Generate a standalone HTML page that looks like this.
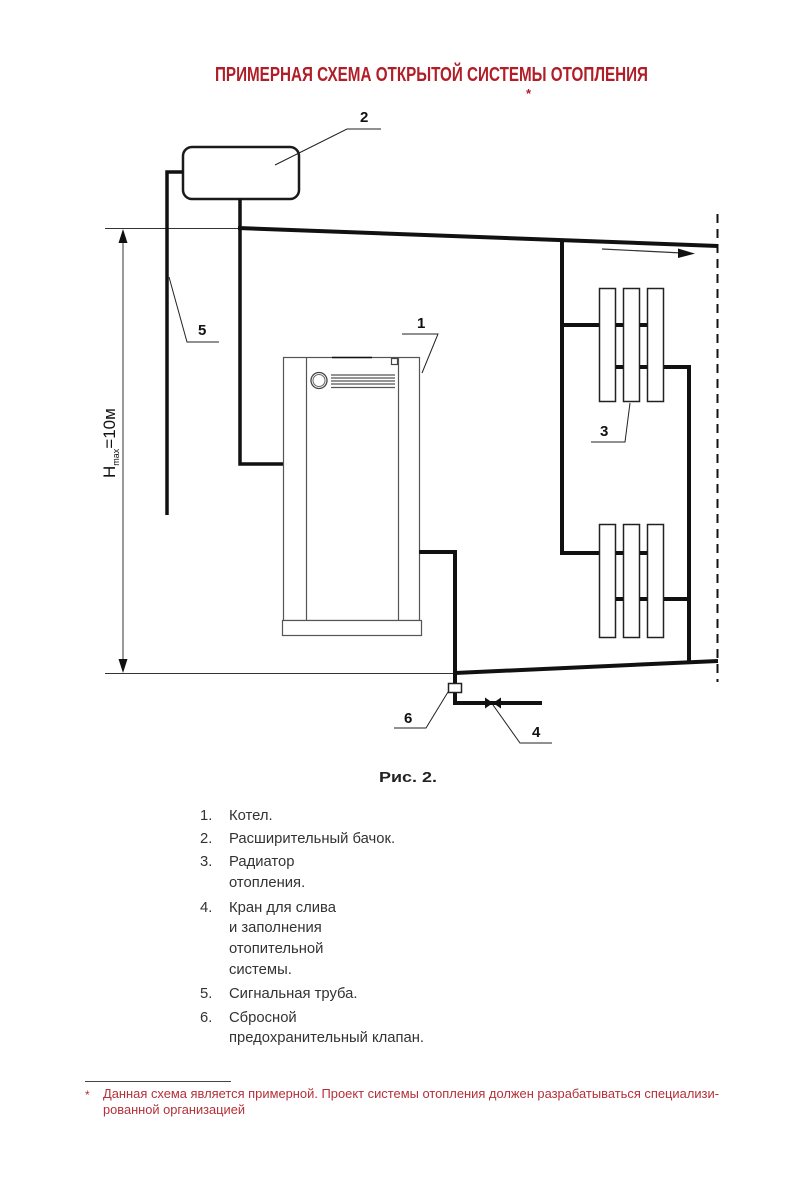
<!DOCTYPE html>
<html>
<head>
<meta charset="utf-8">
<style>
  html, body { margin: 0; padding: 0; background: #fff; }
  svg { display: block; }
  text { font-family: "Liberation Sans", "DejaVu Sans", sans-serif; }
</style>
</head>
<body>
<svg width="800" height="1200" viewBox="0 0 800 1200" xmlns="http://www.w3.org/2000/svg">
  <rect x="0" y="0" width="800" height="1200" fill="#fff"/>

  <!-- Title -->
  <text x="215" y="81" font-size="20" font-weight="bold" fill="#b01e28" textLength="433" lengthAdjust="spacingAndGlyphs">ПРИМЕРНАЯ СХЕМА ОТКРЫТОЙ СИСТЕМЫ ОТОПЛЕНИЯ</text>
  <text x="526" y="98" font-size="13" font-weight="bold" fill="#b01e28">*</text>

  <!-- Thin reference lines -->
  <line x1="105" y1="228.5" x2="240" y2="228.5" stroke="#333" stroke-width="1"/>
  <line x1="105" y1="673.5" x2="455" y2="673.5" stroke="#333" stroke-width="1"/>

  <!-- Dimension line -->
  <line x1="123" y1="236" x2="123" y2="666" stroke="#333" stroke-width="1"/>
  <polygon points="123,229 118.5,243 127.5,243" fill="#111"/>
  <polygon points="123,673 118.5,659 127.5,659" fill="#111"/>
  <text transform="translate(115,478) rotate(-90)" font-size="17" fill="#111">H<tspan font-size="9" dy="4">max</tspan><tspan dy="-4">=10м</tspan></text>

  <!-- Expansion tank -->
  <rect x="183" y="147" width="116" height="52" rx="9" ry="9" fill="#fff" stroke="#1a1a1a" stroke-width="2.5"/>

  <!-- Signal pipe -->
  <polyline points="183,172 167,172 167,515" fill="none" stroke="#111" stroke-width="3.5"/>

  <!-- Pipe from tank to boiler -->
  <polyline points="240,199 240,464 284,464" fill="none" stroke="#111" stroke-width="3.5"/>

  <!-- Supply main -->
  <line x1="238" y1="228" x2="718" y2="246" stroke="#111" stroke-width="4"/>

  <!-- Flow arrow -->
  <line x1="602" y1="249" x2="682" y2="253" stroke="#333" stroke-width="1.2"/>
  <polygon points="695,253.6 678,248.5 678,258" fill="#111"/>

  <!-- Dashed boundary -->
  <line x1="717.5" y1="214" x2="717.5" y2="682" stroke="#111" stroke-width="2" stroke-dasharray="9,6"/>

  <!-- Left riser -->
  <line x1="562" y1="241" x2="562" y2="555" stroke="#111" stroke-width="4"/>
  <line x1="560" y1="325" x2="663" y2="325" stroke="#111" stroke-width="4"/>
  <line x1="560" y1="553" x2="663" y2="553" stroke="#111" stroke-width="4"/>

  <!-- Right riser -->
  <polyline points="600,367 689,367 689,662" fill="none" stroke="#111" stroke-width="4"/>
  <line x1="600" y1="599" x2="689" y2="599" stroke="#111" stroke-width="4"/>

  <!-- Radiators -->
  <g fill="#fff" stroke="#222" stroke-width="1.5">
    <rect x="599.5" y="288.5" width="16" height="113"/>
    <rect x="623.5" y="288.5" width="16" height="113"/>
    <rect x="647.5" y="288.5" width="16" height="113"/>
    <rect x="599.5" y="524.5" width="16" height="113"/>
    <rect x="623.5" y="524.5" width="16" height="113"/>
    <rect x="647.5" y="524.5" width="16" height="113"/>
  </g>
  <g stroke="#111" stroke-width="4">
    <line x1="616" y1="325" x2="623" y2="325"/>
    <line x1="640" y1="325" x2="647" y2="325"/>
    <line x1="616" y1="367" x2="623" y2="367"/>
    <line x1="640" y1="367" x2="647" y2="367"/>
    <line x1="616" y1="553" x2="623" y2="553"/>
    <line x1="640" y1="553" x2="647" y2="553"/>
    <line x1="616" y1="599" x2="623" y2="599"/>
    <line x1="640" y1="599" x2="647" y2="599"/>
  </g>

  <!-- Return main -->
  <line x1="455" y1="673" x2="718" y2="661" stroke="#111" stroke-width="4"/>

  <!-- Boiler -->
  <g fill="none" stroke="#555" stroke-width="1.2">
    <rect x="283.5" y="357.5" width="136" height="263" fill="#fff"/>
    <line x1="306.5" y1="358" x2="306.5" y2="620"/>
    <line x1="398.5" y1="358" x2="398.5" y2="620"/>
    <rect x="282.5" y="620.5" width="139" height="15" fill="#fff"/>
    <rect x="391.5" y="358.5" width="6" height="6" stroke="#444"/>
  </g>
  <line x1="332" y1="357.5" x2="372" y2="357.5" stroke="#111" stroke-width="1.5"/>
  <circle cx="319" cy="380.5" r="8" fill="none" stroke="#444" stroke-width="1.3"/>
  <circle cx="319" cy="380.5" r="6" fill="none" stroke="#666" stroke-width="1"/>
  <g stroke="#555" stroke-width="1.2">
    <line x1="331" y1="375" x2="395" y2="375"/>
    <line x1="331" y1="378" x2="395" y2="378"/>
    <line x1="331" y1="381" x2="395" y2="381"/>
    <line x1="331" y1="384" x2="395" y2="384"/>
    <line x1="331" y1="387.5" x2="395" y2="387.5"/>
  </g>

  <!-- Pipe from boiler down to valves -->
  <polyline points="419,552 455,552 455,703 542,703" fill="none" stroke="#111" stroke-width="4"/>

  <!-- Safety valve 6 -->
  <rect x="448.5" y="683.5" width="13" height="9" fill="#fff" stroke="#222" stroke-width="1.5"/>

  <!-- Drain valve 4 -->
  <polygon points="485,697.5 493,703 485,708.5" fill="#111"/>
  <polygon points="501,697.5 493,703 501,708.5" fill="#111"/>

  <!-- Leaders -->
  <g fill="none" stroke="#222" stroke-width="1">
    <polyline points="275,165 347,129 381,129"/>
    <polyline points="169,277 187,342 219,342"/>
    <polyline points="422,373 438,334 402,334"/>
    <polyline points="630,403 625,442 591,442"/>
    <polyline points="448,692 426,728 394,728"/>
    <polyline points="493,705 520,743 552,743"/>
  </g>

  <!-- Callout numbers -->
  <g font-size="15" font-weight="bold" fill="#111">
    <text x="360" y="122">2</text>
    <text x="198" y="335">5</text>
    <text x="417" y="328">1</text>
    <text x="600" y="436">3</text>
    <text x="404" y="723">6</text>
    <text x="532" y="737">4</text>
  </g>

  <!-- Figure caption -->
  <text x="379" y="782" font-size="15" font-weight="bold" fill="#222" textLength="58" lengthAdjust="spacingAndGlyphs">Рис. 2.</text>

  <!-- Legend -->
  <g font-size="14.8" fill="#333">
    <text x="200" y="820">1.</text><text x="229" y="820">Котел.</text>
    <text x="200" y="843">2.</text><text x="229" y="843">Расширительный бачок.</text>
    <text x="200" y="866">3.</text><text x="229" y="866">Радиатор</text>
    <text x="229" y="887">отопления.</text>
    <text x="200" y="912">4.</text><text x="229" y="912">Кран для слива</text>
    <text x="229" y="932">и заполнения</text>
    <text x="229" y="953">отопительной</text>
    <text x="229" y="974">системы.</text>
    <text x="200" y="998">5.</text><text x="229" y="998">Сигнальная труба.</text>
    <text x="200" y="1022">6.</text><text x="229" y="1022">Сбросной</text>
    <text x="229" y="1042">предохранительный клапан.</text>
  </g>

  <!-- Footnote -->
  <line x1="85" y1="1081.5" x2="231" y2="1081.5" stroke="#444" stroke-width="1"/>
  <text x="85" y="1099" font-size="12" fill="#b3303a">*</text>
  <text x="103" y="1098" font-size="12.5" fill="#b3303a" textLength="616" lengthAdjust="spacingAndGlyphs">Данная схема является примерной. Проект системы отопления должен разрабатываться специализи-</text>
  <text x="103" y="1114" font-size="12.5" fill="#b3303a" textLength="142" lengthAdjust="spacingAndGlyphs">рованной организацией</text>
</svg>
</body>
</html>
